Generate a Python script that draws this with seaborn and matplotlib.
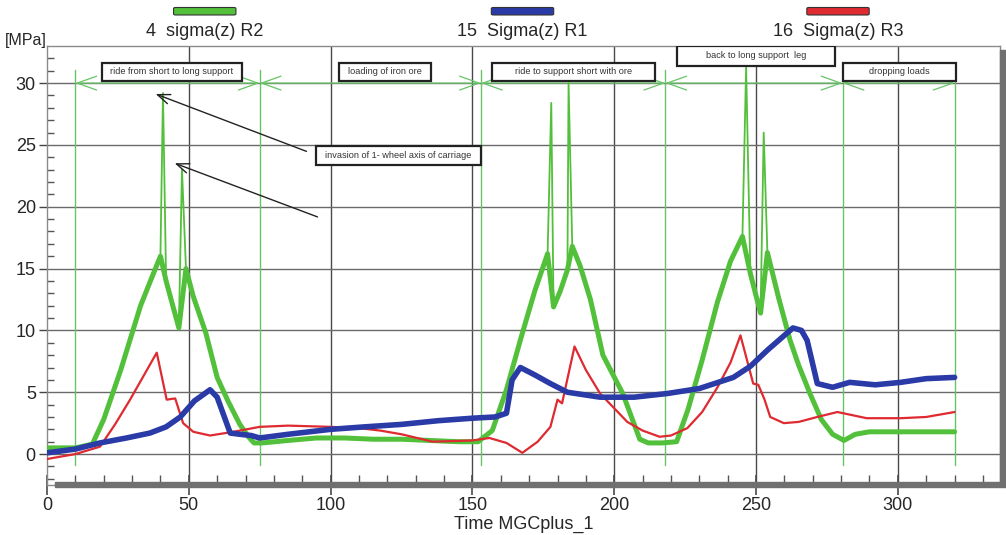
import numpy as np
import pandas as pd
import matplotlib.pyplot as plt
import matplotlib.patches as mpatches
import seaborn as sns

# Values (time [-], stress [MPa])
green_x = [0, 10, 16, 20, 26, 33, 37, 40, 42, 44, 46.5, 49, 51.5, 56, 60, 64, 68, 71, 73, 76, 85, 95, 105, 115, 125, 135, 145, 152,
           157, 162, 167, 172, 176.5, 178.6, 181, 183.5, 185.2, 188, 191.6, 196, 203, 209, 212, 217, 222, 226, 231, 236.4, 241, 245.2,
           248, 250, 251.6, 254, 258, 262, 265, 269, 273, 277, 281, 285, 290, 300, 310, 320]
green_y = [0.5, 0.5, 0.8, 2.8, 6.8, 12.0, 14.3, 16.0, 14.0, 12.3, 10.2, 15.0, 12.8, 9.8, 6.2, 4.2, 2.4, 1.4, 0.9, 0.9, 1.1, 1.3, 1.3, 1.2, 1.2, 1.1, 1.0, 1.0,
           1.9, 5.2, 9.3, 13.2, 16.2, 11.9, 13.2, 14.9, 16.8, 15.2, 12.5, 8.0, 4.9, 1.2, 0.9, 0.9, 1.0, 3.6, 7.6, 12.3, 15.6, 17.6,
           14.6, 12.8, 11.4, 16.3, 12.6, 9.2, 7.2, 4.9, 2.8, 1.6, 1.1, 1.6, 1.8, 1.8, 1.8, 1.8]

# thin spikes: wheel axis passing
spike_x = [[40, 40.9, 42], [46.5, 47.6, 49], [176.5, 177.8, 178.6], [183.5, 183.9, 185.2], [245.2, 246.5, 248], [251.6, 252.7, 254]]
spike_y = [[16.0, 29.2, 14.0], [10.2, 23.0, 15.0], [16.2, 28.4, 11.9], [14.9, 30.0, 16.8], [17.6, 31.3, 14.6], [11.4, 26.0, 16.3]]

blue_x = [0, 10, 18.7, 28, 36.3, 42, 47, 52, 57.5, 60, 64.6, 68, 72, 75, 85, 100, 112, 125, 138, 150, 158, 162, 164, 166.9, 172, 177.5,
          183.5, 195, 207, 218.8, 230, 242, 248, 254, 259, 263, 266, 268, 271.6, 277, 283, 292, 301, 310, 320]
blue_y = [0.1, 0.4, 0.9, 1.3, 1.7, 2.2, 3.0, 4.3, 5.2, 4.6, 1.7, 1.6, 1.5, 1.3, 1.6, 2.0, 2.2, 2.4, 2.7, 2.9, 3.0, 3.3, 6.0, 7.0, 6.4, 5.7,
          5.0, 4.6, 4.6, 4.9, 5.3, 6.2, 7.1, 8.4, 9.4, 10.2, 10.0, 9.2, 5.7, 5.4, 5.8, 5.6, 5.8, 6.1, 6.2]

red_x = [0, 10, 18.7, 24, 29.3, 34, 38.7, 42.2, 45.2, 48, 51.6, 57.5, 65.7, 75, 85, 100, 110, 117.5, 125, 136, 150, 156, 162, 167.6,
         173, 177.5, 180, 181.6, 186, 190, 195, 204.6, 210, 216, 220, 225.8, 231, 236.4, 241, 244.5, 249, 250.8, 253, 255, 259.8,
         265, 271.6, 278.7, 289, 301, 310, 320]
red_y = [-0.4, 0.0, 0.6, 2.4, 4.4, 6.3, 8.2, 4.4, 4.5, 2.5, 1.8, 1.5, 1.8, 2.2, 2.3, 2.2, 2.1, 1.9, 1.6, 1.0, 1.1, 1.3, 0.9, 0.1,
         1.0, 2.2, 4.4, 4.1, 8.7, 6.8, 4.9, 2.6, 1.9, 1.4, 1.5, 2.1, 3.4, 5.4, 7.4, 9.6, 5.7, 5.6, 4.4, 3.0, 2.5,
         2.6, 3.0, 3.4, 2.9, 2.9, 3.0, 3.4]

phase_x = [10, 75, 153, 218, 280.5, 320]
phase_labels = ["ride from short to long support", "loading of iron ore", "ride to support short with ore",
                "back to long support  leg", "dropping loads"]

series_names = ["4  sigma(z) R2", "15  Sigma(z) R1", "16  Sigma(z) R3"]
note_text = "invasion of 1- wheel axis of carriage"

GREEN = "#52c03a"
BLUE = "#2a3aa6"
RED = "#de2a30"
PHASE = "#66c466"

sns.set_style("white")
plt.rcParams['font.family'] = ['Liberation Sans', 'DejaVu Sans']

fig = plt.figure(figsize=(10.06, 5.35), dpi=100)
ax = fig.add_axes([0.0467, 0.0935, 0.9473, 0.8205])

# grid
for gx in range(50, 301, 50):
    ax.axvline(gx, color="#4a4a4a", lw=1.0, zorder=1)
for gy in range(0, 31, 5):
    ax.axhline(gy, color="#6a6a6a", lw=1.0, zorder=1)

# phase markers
for px in phase_x:
    ax.plot([px, px], [-0.9, 31.1], color=PHASE, lw=1.0, zorder=2)
for a, b in zip(phase_x[:-1], phase_x[1:]):
    ax.annotate("", xy=(b, 30), xytext=(a, 30),
                arrowprops=dict(arrowstyle="<->,head_length=1.4,head_width=0.5", color=PHASE, lw=0.9,
                                shrinkA=0, shrinkB=0), zorder=2)

# data
green = pd.DataFrame({"t": green_x, "s": green_y})
blue = pd.DataFrame({"t": blue_x, "s": blue_y})
red = pd.DataFrame({"t": red_x, "s": red_y})
for sx, sy in zip(spike_x, spike_y):
    ax.plot(sx, sy, color=GREEN, lw=1.3, zorder=3)
sns.lineplot(data=green, x="t", y="s", ax=ax, color=GREEN, lw=3.6, sort=False, estimator=None, zorder=3)
sns.lineplot(data=red, x="t", y="s", ax=ax, color=RED, lw=1.6, sort=False, estimator=None, zorder=4)
sns.lineplot(data=blue, x="t", y="s", ax=ax, color=BLUE, lw=4.0, sort=False, estimator=None, zorder=5)


def label_box(x0, x1, y0, y1, text):
    ax.add_patch(mpatches.Rectangle((x0, y0), x1 - x0, y1 - y0, fc="white", ec="#222222", lw=1.6, zorder=6))
    ax.text((x0 + x1) / 2, (y0 + y1) / 2, text, ha="center", va="center", fontsize=6.6, color="#333333", zorder=7)


# phase label boxes (placement as in the reference)
box_extent = [(19.4, 68.8, 30.2, 31.6), (103, 135.5, 30.2, 31.6), (157, 214.5, 30.2, 31.6),
              (222, 278, 31.4, 33.0), (280.5, 320.4, 30.2, 31.6)]
for lab, (x0, x1, y0, y1) in zip(phase_labels, box_extent):
    label_box(x0, x1, y0, y1, lab)
label_box(95, 153, 23.4, 24.9, note_text)

ax.annotate("", xy=(37.4, 29.2), xytext=(92.4, 24.4),
            arrowprops=dict(arrowstyle="->,head_length=0.9,head_width=0.35", color="#222222", lw=1.0), zorder=6)
ax.annotate("", xy=(44.1, 23.6), xytext=(96.3, 19.1),
            arrowprops=dict(arrowstyle="->,head_length=0.9,head_width=0.35", color="#222222", lw=1.0), zorder=6)

ax.set_xlim(0, 336)
ax.set_ylim(-2.5, 33.0)
ax.set_xticks(range(0, 301, 50))
ax.set_yticks(range(0, 31, 5))
ax.set_xticks(range(10, 331, 10), minor=True)
ax.set_yticks(np.arange(-2, 33, 1), minor=True)
ax.tick_params(bottom=True, left=True, which="both")
ax.tick_params(axis="both", which="major", labelsize=13, color="#444444", pad=2)
ax.tick_params(axis="x", which="minor", direction="in", length=7, width=1.0, color="#555555")
ax.tick_params(axis="y", which="minor", direction="in", length=5, width=1.0, color="#555555")
ax.tick_params(axis="y", which="major", direction="out", length=6, width=1.0)
ax.tick_params(axis="x", which="major", direction="inout", length=14, width=1.2, color="#4a4a4a")
ax.set_xlabel("Time MGCplus_1", fontsize=13, labelpad=1)
ax.set_ylabel("")
for sp in ax.spines.values():
    sp.set_color("#8a8a8a")
    sp.set_linewidth(1.0)

# shadow on right and bottom
fig.patches.append(mpatches.Rectangle((0.9940, 0.092), 0.006, 0.815, transform=fig.transFigure,
                                      color="#707070", zorder=0))
fig.patches.append(mpatches.Rectangle((0.055, 0.0905), 0.945, 0.009, transform=fig.transFigure,
                                      color="#707070", zorder=0))

fig.text(0.005, 0.925, "[MPa]", fontsize=11.5, ha="left", va="center")

# legend bars above the plot
leg_cx = [0.2035, 0.5194, 0.8330]
for name, cx, col in zip(series_names, leg_cx, [GREEN, BLUE, RED]):
    fig.patches.append(mpatches.FancyBboxPatch((cx - 0.029, 0.974), 0.058, 0.010,
                                               boxstyle="round,pad=0.002", transform=fig.transFigure,
                                               fc=col, ec="#333333", lw=0.8))
    fig.text(cx, 0.942, name, fontsize=13, ha="center", va="center")

fig.savefig("out.png", dpi=100)
